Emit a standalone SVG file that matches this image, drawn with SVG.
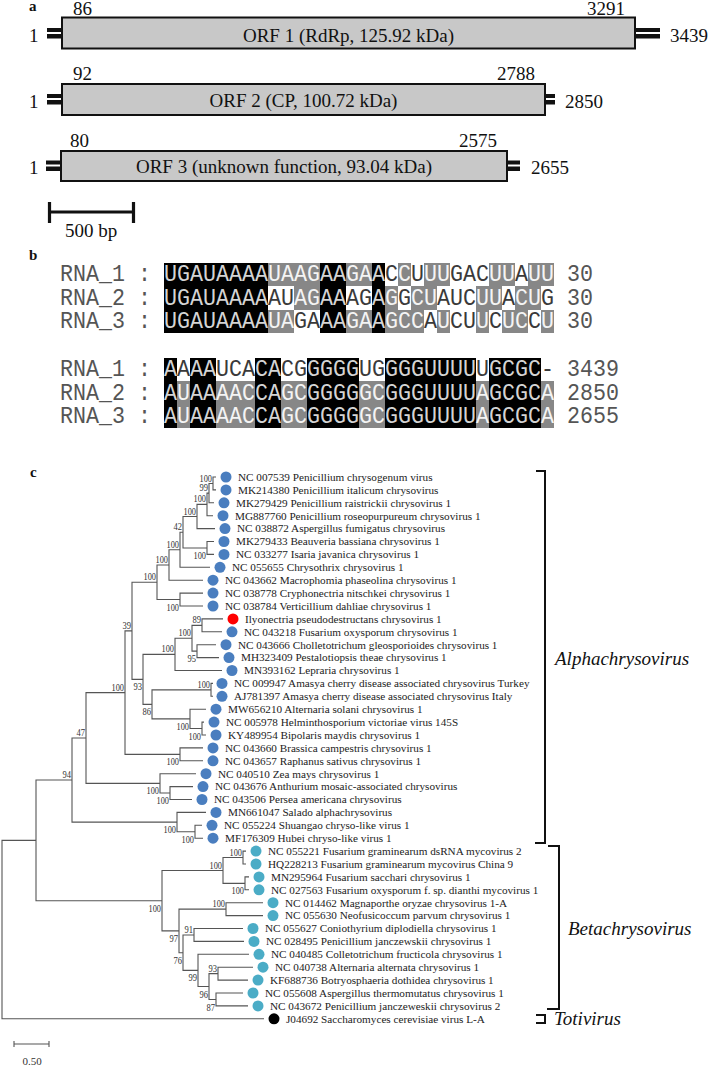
<svg xmlns="http://www.w3.org/2000/svg" width="708" height="1067" viewBox="0 0 708 1067">
<style>
text{font-family:"Liberation Serif","Times New Roman",serif;fill:#111}
.pl{font-weight:bold;font-size:15px}
.num{font-size:19px}
.orf{fill:#c8c8c8;stroke:#111;stroke-width:2}
.bar{fill:#111}
.mono{font-family:"Liberation Mono","Courier New",monospace;font-size:21.667px;fill:#555}
.k{fill:#d4d4d4}.g{fill:#f4f4f4}.w{fill:#3a3a3a}
.bk{fill:#000}.bg{fill:#878787}
.br{fill:none;stroke:#555;stroke-width:1.1}
.bs{font-size:11px;fill:#333}
.lf{font-size:11.2px;fill:#222}
.da{fill:#4a7ebf}.db{fill:#4bacc6}.dr{fill:#ff0000}.dk{fill:#000}
.gen{font-style:italic;font-size:19px}
.brk{fill:none;stroke:#111;stroke-width:2}
</style>
<rect width="708" height="1067" fill="#fff"/>

<g id="panel-a">
<text class="pl" x="29" y="11">a</text>
<g id="orf1">
<rect class="bar" x="47" y="28" width="15" height="4"/><rect class="bar" x="47" y="34" width="15" height="4.5"/>
<rect class="bar" x="635" y="28" width="25" height="4"/><rect class="bar" x="635" y="34" width="25" height="4.5"/>
<rect class="orf" x="62" y="17.5" width="573" height="31"/>
<text class="num" x="29" y="42">1</text>
<text class="num" x="73" y="15">86</text>
<text class="num" x="587" y="15">3291</text>
<text class="num" x="670" y="42">3439</text>
<text class="num" x="348.5" y="41.5" text-anchor="middle">ORF 1 (RdRp, 125.92 kDa)</text>
</g>
<g id="orf2">
<rect class="bar" x="47" y="94" width="15" height="4"/><rect class="bar" x="47" y="100" width="15" height="4.5"/>
<rect class="bar" x="545" y="94" width="10" height="4"/><rect class="bar" x="545" y="100" width="10" height="4.5"/>
<rect class="orf" x="62" y="84" width="483" height="31"/>
<text class="num" x="29" y="108">1</text>
<text class="num" x="73" y="80">92</text>
<text class="num" x="497" y="80">2788</text>
<text class="num" x="565" y="108">2850</text>
<text class="num" x="303.5" y="107" text-anchor="middle">ORF 2 (CP, 100.72 kDa)</text>
</g>
<g id="orf3">
<rect class="bar" x="46" y="160.5" width="15" height="4"/><rect class="bar" x="46" y="166.5" width="15" height="4.5"/>
<rect class="bar" x="507" y="160.5" width="13" height="4"/><rect class="bar" x="507" y="166.5" width="13" height="4.5"/>
<rect class="orf" x="61" y="151" width="446" height="30"/>
<text class="num" x="29" y="174">1</text>
<text class="num" x="70" y="147">80</text>
<text class="num" x="459" y="147">2575</text>
<text class="num" x="531" y="174">2655</text>
<text class="num" x="284" y="173" text-anchor="middle">ORF 3 (unknown function, 93.04 kDa)</text>
</g>
<g id="scalebar-a">
<path d="M48 212H135M49.5 202V223M133.5 202V223" stroke="#111" stroke-width="3.2" fill="none"/>
<text class="num" x="91" y="237" text-anchor="middle">500 bp</text>
</g>
</g>

<g id="panel-b">
<text class="pl" x="29" y="260">b</text>
<g id="shading" shape-rendering="crispEdges">
<rect class="bk" x="164" y="263" width="104" height="70"/>
<rect class="bk" x="320" y="263" width="26" height="70"/>
<rect class="bk" x="372" y="263" width="13" height="70"/>
<rect class="bg" x="268" y="263" width="52" height="23"/>
<rect class="bg" x="346" y="263" width="26" height="23"/>
<rect class="bg" x="398" y="263" width="13" height="23"/>
<rect class="bg" x="424" y="263" width="26" height="23"/>
<rect class="bg" x="489" y="263" width="26" height="23"/>
<rect class="bg" x="528" y="263" width="26" height="23"/>
<rect class="bg" x="294" y="286" width="26" height="24"/>
<rect class="bg" x="385" y="286" width="13" height="24"/>
<rect class="bg" x="411" y="286" width="26" height="24"/>
<rect class="bg" x="476" y="286" width="26" height="24"/>
<rect class="bg" x="515" y="286" width="26" height="24"/>
<rect class="bg" x="268" y="310" width="26" height="23"/>
<rect class="bg" x="346" y="310" width="26" height="23"/>
<rect class="bg" x="385" y="310" width="39" height="23"/>
<rect class="bg" x="437" y="310" width="13" height="23"/>
<rect class="bg" x="476" y="310" width="13" height="23"/>
<rect class="bg" x="502" y="310" width="26" height="23"/>
<rect class="bg" x="541" y="310" width="13" height="23"/>
<rect class="bk" x="164" y="358" width="13" height="70"/>
<rect class="bk" x="190" y="358" width="26" height="70"/>
<rect class="bk" x="255" y="358" width="26" height="70"/>
<rect class="bk" x="307" y="358" width="52" height="70"/>
<rect class="bk" x="385" y="358" width="91" height="70"/>
<rect class="bk" x="489" y="358" width="52" height="70"/>
<rect class="bg" x="177" y="381" width="13" height="47"/>
<rect class="bg" x="216" y="381" width="39" height="47"/>
<rect class="bg" x="281" y="381" width="26" height="47"/>
<rect class="bg" x="359" y="381" width="26" height="47"/>
<rect class="bg" x="476" y="381" width="13" height="47"/>
<rect class="bg" x="541" y="381" width="13" height="47"/>
</g>
<g id="b1r1" transform="translate(0 281) scale(1 1.12)">
<text class="mono" x="60" y="0">RNA_1 :</text>
<text class="mono" x="164" y="0"><tspan class="k">UGAUAAAA</tspan><tspan class="g">UAAG</tspan><tspan class="k">AA</tspan><tspan class="g">GA</tspan><tspan class="k">A</tspan><tspan class="w">C</tspan><tspan class="g">C</tspan><tspan class="w">U</tspan><tspan class="g">UU</tspan><tspan class="w">GAC</tspan><tspan class="g">UU</tspan><tspan class="w">A</tspan><tspan class="g">UU</tspan></text>
<text class="mono" x="567" y="0">30</text>
</g>
<g id="b1r2" transform="translate(0 305) scale(1 1.12)">
<text class="mono" x="60" y="0">RNA_2 :</text>
<text class="mono" x="164" y="0"><tspan class="k">UGAUAAAA</tspan><tspan class="w">AU</tspan><tspan class="g">AG</tspan><tspan class="k">AA</tspan><tspan class="w">AG</tspan><tspan class="k">A</tspan><tspan class="g">G</tspan><tspan class="w">G</tspan><tspan class="g">CU</tspan><tspan class="w">AUC</tspan><tspan class="g">UU</tspan><tspan class="w">A</tspan><tspan class="g">CU</tspan><tspan class="w">G</tspan></text>
<text class="mono" x="567" y="0">30</text>
</g>
<g id="b1r3" transform="translate(0 328) scale(1 1.12)">
<text class="mono" x="60" y="0">RNA_3 :</text>
<text class="mono" x="164" y="0"><tspan class="k">UGAUAAAA</tspan><tspan class="g">UA</tspan><tspan class="w">GA</tspan><tspan class="k">AA</tspan><tspan class="g">GA</tspan><tspan class="k">A</tspan><tspan class="g">GCC</tspan><tspan class="w">A</tspan><tspan class="g">U</tspan><tspan class="w">CU</tspan><tspan class="g">U</tspan><tspan class="w">C</tspan><tspan class="g">UC</tspan><tspan class="w">C</tspan><tspan class="g">U</tspan></text>
<text class="mono" x="567" y="0">30</text>
</g>
<g id="b2r1" transform="translate(0 376) scale(1 1.12)">
<text class="mono" x="60" y="0">RNA_1 :</text>
<text class="mono" x="164" y="0"><tspan class="k">A</tspan><tspan class="w">A</tspan><tspan class="k">AA</tspan><tspan class="w">UCA</tspan><tspan class="k">CA</tspan><tspan class="w">CG</tspan><tspan class="k">GGGG</tspan><tspan class="w">UG</tspan><tspan class="k">GGGUUUU</tspan><tspan class="w">U</tspan><tspan class="k">GCGC</tspan><tspan class="w">-</tspan></text>
<text class="mono" x="567" y="0">3439</text>
</g>
<g id="b2r2" transform="translate(0 400) scale(1 1.12)">
<text class="mono" x="60" y="0">RNA_2 :</text>
<text class="mono" x="164" y="0"><tspan class="k">A</tspan><tspan class="g">U</tspan><tspan class="k">AA</tspan><tspan class="g">AAC</tspan><tspan class="k">CA</tspan><tspan class="g">GC</tspan><tspan class="k">GGGG</tspan><tspan class="g">GC</tspan><tspan class="k">GGGUUUU</tspan><tspan class="g">A</tspan><tspan class="k">GCGC</tspan><tspan class="g">A</tspan></text>
<text class="mono" x="567" y="0">2850</text>
</g>
<g id="b2r3" transform="translate(0 423) scale(1 1.12)">
<text class="mono" x="60" y="0">RNA_3 :</text>
<text class="mono" x="164" y="0"><tspan class="k">A</tspan><tspan class="g">U</tspan><tspan class="k">AA</tspan><tspan class="g">AAC</tspan><tspan class="k">CA</tspan><tspan class="g">GC</tspan><tspan class="k">GGGG</tspan><tspan class="g">GC</tspan><tspan class="k">GGGUUUU</tspan><tspan class="g">A</tspan><tspan class="k">GCGC</tspan><tspan class="g">A</tspan></text>
<text class="mono" x="567" y="0">2655</text>
</g>
</g>

<g id="panel-c">
<text class="pl" x="30" y="477">c</text>
<g id="connectors" class="br">
<path d="M216 477H213V489.9H216"/>
<path d="M213 483.45H209V502.8H214"/>
<path d="M209 493.1H207V515.7H213"/>
<path d="M207 504.4H197V528.6H215"/>
<path d="M214 541.5H207V554.4H214"/>
<path d="M197 516.5H183V547.95H207"/>
<path d="M183 532.2H180V567.3H210"/>
<path d="M180 549.75H169V580.2H203"/>
<path d="M203 593.1H180V606H203"/>
<path d="M169 565H157V599.55H180"/>
<path d="M223 618.9H202V631.8H222"/>
<path d="M216 644.7H197V657.6H219"/>
<path d="M202 625.35H192V651.15H197"/>
<path d="M192 638.25H175V670.5H222"/>
<path d="M213 683.4H211V696.3H213"/>
<path d="M204 722.1H202V735H206"/>
<path d="M206 709.2H190V728.55H202"/>
<path d="M211 689.85H152V718.9H190"/>
<path d="M175 654.4H143V704.4H152"/>
<path d="M157 582.3H132V679.4H143"/>
<path d="M203 747.9H180V760.8H203"/>
<path d="M132 630.85H125V754.35H180"/>
<path d="M193 786.6H170V799.5H192"/>
<path d="M196 773.7H160V793.05H170"/>
<path d="M125 692.6H86V783.4H160"/>
<path d="M202 825.3H195V838.2H203"/>
<path d="M206 812.4H177V831.75H195"/>
<path d="M86 738H72V822.1H177"/>
<path d="M246 851.1H243V864H246"/>
<path d="M249 876.9H245V889.8H249"/>
<path d="M243 857.55H223V883.35H245"/>
<path d="M263 902.7H226V915.6H263"/>
<path d="M243 928.5H194V941.4H244"/>
<path d="M253 967.2H218V980.1H248"/>
<path d="M243 993H216V1005.9H248"/>
<path d="M218 973.65H209V999.45H216"/>
<path d="M249 954.3H198V986.55H209"/>
<path d="M194 934.95H183V970.4H198"/>
<path d="M226 909.15H179V952.7H183"/>
<path d="M223 870.45H162V930.9H179"/>
<path d="M72 780.05H36V900.7H162"/>
<path d="M36 840.4H2V1018.8H264"/>
</g>
<g id="bootstrap">
<text class="bs" x="199.5" y="481.5" textLength="12.5" lengthAdjust="spacingAndGlyphs">100</text>
<text class="bs" x="199.5" y="491.1" textLength="8.5" lengthAdjust="spacingAndGlyphs">99</text>
<text class="bs" x="193.5" y="502.4" textLength="12.5" lengthAdjust="spacingAndGlyphs">100</text>
<text class="bs" x="183.5" y="514.5" textLength="12.5" lengthAdjust="spacingAndGlyphs">100</text>
<text class="bs" x="193.5" y="559" textLength="12.5" lengthAdjust="spacingAndGlyphs">100</text>
<text class="bs" x="173.5" y="530.2" textLength="8.5" lengthAdjust="spacingAndGlyphs">42</text>
<text class="bs" x="166.5" y="547.8" textLength="12.5" lengthAdjust="spacingAndGlyphs">100</text>
<text class="bs" x="155.5" y="563" textLength="12.5" lengthAdjust="spacingAndGlyphs">100</text>
<text class="bs" x="166.5" y="610.5" textLength="12.5" lengthAdjust="spacingAndGlyphs">100</text>
<text class="bs" x="143.5" y="580.3" textLength="12.5" lengthAdjust="spacingAndGlyphs">100</text>
<text class="bs" x="192.5" y="623.3" textLength="8.5" lengthAdjust="spacingAndGlyphs">89</text>
<text class="bs" x="187.5" y="662" textLength="8.5" lengthAdjust="spacingAndGlyphs">95</text>
<text class="bs" x="178.5" y="636.3" textLength="12.5" lengthAdjust="spacingAndGlyphs">100</text>
<text class="bs" x="161.5" y="652.4" textLength="12.5" lengthAdjust="spacingAndGlyphs">100</text>
<text class="bs" x="197.5" y="687.9" textLength="12.5" lengthAdjust="spacingAndGlyphs">100</text>
<text class="bs" x="176.5" y="729.9" textLength="12.5" lengthAdjust="spacingAndGlyphs">100</text>
<text class="bs" x="188.5" y="739.5" textLength="12.5" lengthAdjust="spacingAndGlyphs">100</text>
<text class="bs" x="142.5" y="715.4" textLength="8.5" lengthAdjust="spacingAndGlyphs">86</text>
<text class="bs" x="133.5" y="690.4" textLength="8.5" lengthAdjust="spacingAndGlyphs">93</text>
<text class="bs" x="122.5" y="628.9" textLength="8.5" lengthAdjust="spacingAndGlyphs">39</text>
<text class="bs" x="166.5" y="765.4" textLength="12.5" lengthAdjust="spacingAndGlyphs">100</text>
<text class="bs" x="111.5" y="690.6" textLength="12.5" lengthAdjust="spacingAndGlyphs">100</text>
<text class="bs" x="156.5" y="804" textLength="12.5" lengthAdjust="spacingAndGlyphs">100</text>
<text class="bs" x="146.5" y="794.4" textLength="12.5" lengthAdjust="spacingAndGlyphs">100</text>
<text class="bs" x="76.5" y="736" textLength="8.5" lengthAdjust="spacingAndGlyphs">47</text>
<text class="bs" x="181.5" y="842.8" textLength="12.5" lengthAdjust="spacingAndGlyphs">100</text>
<text class="bs" x="163.5" y="833.1" textLength="12.5" lengthAdjust="spacingAndGlyphs">100</text>
<text class="bs" x="62.5" y="778" textLength="8.5" lengthAdjust="spacingAndGlyphs">94</text>
<text class="bs" x="229.5" y="855.5" textLength="12.5" lengthAdjust="spacingAndGlyphs">100</text>
<text class="bs" x="231.5" y="894.4" textLength="12.5" lengthAdjust="spacingAndGlyphs">100</text>
<text class="bs" x="209.5" y="868.5" textLength="12.5" lengthAdjust="spacingAndGlyphs">100</text>
<text class="bs" x="212.5" y="907.2" textLength="12.5" lengthAdjust="spacingAndGlyphs">100</text>
<text class="bs" x="184.5" y="933" textLength="8.5" lengthAdjust="spacingAndGlyphs">91</text>
<text class="bs" x="208.5" y="971.7" textLength="8.5" lengthAdjust="spacingAndGlyphs">93</text>
<text class="bs" x="206.5" y="1010.5" textLength="8.5" lengthAdjust="spacingAndGlyphs">87</text>
<text class="bs" x="199.5" y="997.6" textLength="8.5" lengthAdjust="spacingAndGlyphs">96</text>
<text class="bs" x="188.5" y="981.4" textLength="8.5" lengthAdjust="spacingAndGlyphs">99</text>
<text class="bs" x="173.5" y="963.7" textLength="8.5" lengthAdjust="spacingAndGlyphs">76</text>
<text class="bs" x="169.5" y="941.9" textLength="8.5" lengthAdjust="spacingAndGlyphs">97</text>
<text class="bs" x="148.5" y="911.7" textLength="12.5" lengthAdjust="spacingAndGlyphs">100</text>
</g>
<g id="leaf-0"><circle class="da" cx="226" cy="477" r="5.5"/><text class="lf" x="238" y="480.8">NC 007539 Penicillium chrysogenum virus</text></g>
<g id="leaf-1"><circle class="da" cx="226" cy="489.9" r="5.5"/><text class="lf" x="238" y="493.7">MK214380 Penicillium italicum chrysovirus</text></g>
<g id="leaf-2"><circle class="da" cx="224" cy="502.8" r="5.5"/><text class="lf" x="236" y="506.6">MK279429 Penicillium raistrickii chrysovirus 1</text></g>
<g id="leaf-3"><circle class="da" cx="223" cy="515.7" r="5.5"/><text class="lf" x="235" y="519.5">MG887760 Penicillium roseopurpureum chrysovirus 1</text></g>
<g id="leaf-4"><circle class="da" cx="225" cy="528.6" r="5.5"/><text class="lf" x="237" y="532.4">NC 038872 Aspergillus fumigatus chrysovirus</text></g>
<g id="leaf-5"><circle class="da" cx="224" cy="541.5" r="5.5"/><text class="lf" x="236" y="545.3">MK279433 Beauveria bassiana chrysovirus 1</text></g>
<g id="leaf-6"><circle class="da" cx="224" cy="554.4" r="5.5"/><text class="lf" x="236" y="558.2">NC 033277 Isaria javanica chrysovirus 1</text></g>
<g id="leaf-7"><circle class="da" cx="220" cy="567.3" r="5.5"/><text class="lf" x="232" y="571.1">NC 055655 Chrysothrix chrysovirus 1</text></g>
<g id="leaf-8"><circle class="da" cx="213" cy="580.2" r="5.5"/><text class="lf" x="225" y="584">NC 043662 Macrophomia phaseolina chrysovirus 1</text></g>
<g id="leaf-9"><circle class="da" cx="213" cy="593.1" r="5.5"/><text class="lf" x="225" y="596.9">NC 038778 Cryphonectria nitschkei chrysovirus 1</text></g>
<g id="leaf-10"><circle class="da" cx="213" cy="606" r="5.5"/><text class="lf" x="225" y="609.8">NC 038784 Verticillium dahliae chrysovirus 1</text></g>
<g id="leaf-11"><circle class="dr" cx="233" cy="618.9" r="5.5"/><text class="lf" x="245" y="622.7">Ilyonectria pseudodestructans chrysovirus 1</text></g>
<g id="leaf-12"><circle class="da" cx="232" cy="631.8" r="5.5"/><text class="lf" x="244" y="635.6">NC 043218 Fusarium oxysporum chrysovirus 1</text></g>
<g id="leaf-13"><circle class="da" cx="226" cy="644.7" r="5.5"/><text class="lf" x="238" y="648.5">NC 043666 Cholletotrichum gleosporioides chrysovirus 1</text></g>
<g id="leaf-14"><circle class="da" cx="229" cy="657.6" r="5.5"/><text class="lf" x="241" y="661.4">MH323409 Pestalotiopsis theae chrysovirus 1</text></g>
<g id="leaf-15"><circle class="da" cx="232" cy="670.5" r="5.5"/><text class="lf" x="244" y="674.3">MN393162 Lepraria chrysovirus 1</text></g>
<g id="leaf-16"><circle class="da" cx="222" cy="683.4" r="5.5"/><text class="lf" x="234" y="687.2">NC 009947 Amasya cherry disease associated chrysovirus Turkey</text></g>
<g id="leaf-17"><circle class="da" cx="222" cy="696.3" r="5.5"/><text class="lf" x="234" y="700.1">AJ781397 Amasya cherry disease associated chrysovirus Italy</text></g>
<g id="leaf-18"><circle class="da" cx="216" cy="709.2" r="5.5"/><text class="lf" x="228" y="713">MW656210 Alternaria solani chrysovirus 1</text></g>
<g id="leaf-19"><circle class="da" cx="214" cy="722.1" r="5.5"/><text class="lf" x="226" y="725.9">NC 005978 Helminthosporium victoriae virus 145S</text></g>
<g id="leaf-20"><circle class="da" cx="216" cy="735" r="5.5"/><text class="lf" x="228" y="738.8">KY489954 Bipolaris maydis chrysovirus 1</text></g>
<g id="leaf-21"><circle class="da" cx="213" cy="747.9" r="5.5"/><text class="lf" x="225" y="751.7">NC 043660 Brassica campestris chrysovirus 1</text></g>
<g id="leaf-22"><circle class="da" cx="213" cy="760.8" r="5.5"/><text class="lf" x="225" y="764.6">NC 043657 Raphanus sativus chrysovirus 1</text></g>
<g id="leaf-23"><circle class="da" cx="206" cy="773.7" r="5.5"/><text class="lf" x="218" y="777.5">NC 040510 Zea mays chrysovirus 1</text></g>
<g id="leaf-24"><circle class="da" cx="203" cy="786.6" r="5.5"/><text class="lf" x="215" y="790.4">NC 043676 Anthurium mosaic-associated chrysovirus</text></g>
<g id="leaf-25"><circle class="da" cx="202" cy="799.5" r="5.5"/><text class="lf" x="214" y="803.3">NC 043506 Persea americana chrysovirus</text></g>
<g id="leaf-26"><circle class="da" cx="216" cy="812.4" r="5.5"/><text class="lf" x="228" y="816.2">MN661047 Salado alphachrysovirus</text></g>
<g id="leaf-27"><circle class="da" cx="212" cy="825.3" r="5.5"/><text class="lf" x="224" y="829.1">NC 055224 Shuangao chryso-like virus 1</text></g>
<g id="leaf-28"><circle class="da" cx="213" cy="838.2" r="5.5"/><text class="lf" x="225" y="842">MF176309 Hubei chryso-like virus 1</text></g>
<g id="leaf-29"><circle class="db" cx="256" cy="851.1" r="5.5"/><text class="lf" x="268" y="854.9">NC 055221 Fusarium graminearum dsRNA mycovirus 2</text></g>
<g id="leaf-30"><circle class="db" cx="256" cy="864" r="5.5"/><text class="lf" x="268" y="867.8">HQ228213 Fusarium graminearum mycovirus China 9</text></g>
<g id="leaf-31"><circle class="db" cx="259" cy="876.9" r="5.5"/><text class="lf" x="271" y="880.7">MN295964 Fusarium sacchari chrysovirus 1</text></g>
<g id="leaf-32"><circle class="db" cx="259" cy="889.8" r="5.5"/><text class="lf" x="271" y="893.6">NC 027563 Fusarium oxysporum f. sp. dianthi mycovirus 1</text></g>
<g id="leaf-33"><circle class="db" cx="273" cy="902.7" r="5.5"/><text class="lf" x="285" y="906.5">NC 014462 Magnaporthe oryzae chrysovirus 1-A</text></g>
<g id="leaf-34"><circle class="db" cx="273" cy="915.6" r="5.5"/><text class="lf" x="285" y="919.4">NC 055630 Neofusicoccum parvum chrysovirus 1</text></g>
<g id="leaf-35"><circle class="db" cx="253" cy="928.5" r="5.5"/><text class="lf" x="265" y="932.3">NC 055627 Coniothyrium diplodiella chrysovirus 1</text></g>
<g id="leaf-36"><circle class="db" cx="254" cy="941.4" r="5.5"/><text class="lf" x="266" y="945.2">NC 028495 Penicillium janczewskii chrysovirus 1</text></g>
<g id="leaf-37"><circle class="db" cx="259" cy="954.3" r="5.5"/><text class="lf" x="271" y="958.1">NC 040485 Colletotrichum fructicola chrysovirus 1</text></g>
<g id="leaf-38"><circle class="db" cx="263" cy="967.2" r="5.5"/><text class="lf" x="275" y="971">NC 040738 Alternaria alternata chrysovirus 1</text></g>
<g id="leaf-39"><circle class="db" cx="258" cy="980.1" r="5.5"/><text class="lf" x="270" y="983.9">KF688736 Botryosphaeria dothidea chrysovirus 1</text></g>
<g id="leaf-40"><circle class="db" cx="253" cy="993" r="5.5"/><text class="lf" x="265" y="996.8">NC 055608 Aspergillus thermomutatus chrysovirus 1</text></g>
<g id="leaf-41"><circle class="db" cx="258" cy="1005.9" r="5.5"/><text class="lf" x="270" y="1009.7">NC 043672 Penicillium janczeweskii chrysovirus 2</text></g>
<g id="leaf-42"><circle class="dk" cx="274" cy="1018.8" r="5.5"/><text class="lf" x="286" y="1022.6">J04692 Saccharomyces cerevisiae virus L-A</text></g>
<g id="genus-alpha"><path class="brk" d="M536 471H545V843H535"/><text class="gen" x="555" y="665">Alphachrysovirus</text></g>
<g id="genus-beta"><path class="brk" d="M548 846H559V1009H547"/><text class="gen" x="568" y="935">Betachrysovirus</text></g>
<g id="genus-toti"><path class="brk" d="M536 1015H545V1023H536"/><text class="gen" x="554" y="1025">Totivirus</text></g>
<g id="scalebar-c"><path d="M14 1044H49M14 1041V1047M49 1041V1047" stroke="#555" stroke-width="1.1" fill="none"/><text class="bs" x="32" y="1065" text-anchor="middle">0.50</text></g>
</g>
</svg>
